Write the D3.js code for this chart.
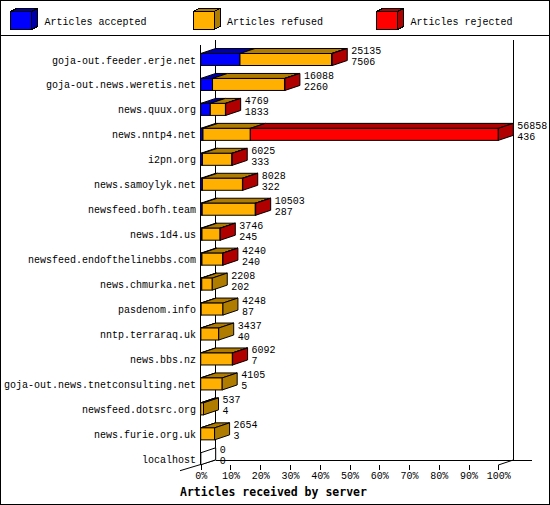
<!DOCTYPE html>
<html>
<head>
<meta charset="utf-8">
<script src="https://cdn.jsdelivr.net/npm/d3@7"></script>
<style>
  body { margin: 0; background: #fff; }
  text { font-family: "Liberation Mono", "DejaVu Sans Mono", monospace; font-size: 10px; fill: #000; }
</style>
</head>
<body>
<div id="chart"></div>
<script>
// servers and their article counts (refused / rejected)
var servers = ["goja-out.feeder.erje.net", "goja-out.news.weretis.net", "news.quux.org", "news.nntp4.net",
  "i2pn.org", "news.samoylyk.net", "newsfeed.bofh.team", "news.1d4.us", "newsfeed.endofthelinebbs.com",
  "news.chmurka.net", "pasdenom.info", "nntp.terraraq.uk", "news.bbs.nz", "goja-out.news.tnetconsulting.net",
  "newsfeed.dotsrc.org", "news.furie.org.uk", "localhost"];
var accepted = [7506, 2260, 1833, 436, 333, 322, 287, 245, 240, 202, 87, 40, 7, 5, 4, 3, 0];
var refused  = [17509, 13748, 2896, 9041, 5632, 7656, 10146, 3471, 3970, 2006, 4161, 3397, 6045, 4100, 533, 2651, 0];
var rejected = [120, 80, 40, 47381, 60, 50, 70, 30, 30, 0, 0, 0, 40, 0, 0, 0, 0];
var seriesNames = ["Articles accepted", "Articles refused", "Articles rejected"];
var tickValues = [0, 10, 20, 30, 40, 50, 60, 70, 80, 90, 100];

var W = 550, H = 505;
var front = ["#0000ff", "#ffb000", "#ff0000"];
var dark = ["#0000aa", "#b07c00", "#b00000"];
var dx = 15, dy = 5;   // 3d depth
var left = 200.7, right = 498.3, floorY = 465, topY = 45;

var svg = d3.select("#chart").append("svg")
  .attr("width", W).attr("height", H)
  .style("shape-rendering", "crispEdges");

svg.append("rect").attr("x", 0.5).attr("y", 0.5).attr("width", W - 1).attr("height", H - 1)
  .attr("fill", "#fff").attr("stroke", "#000");
svg.append("line").attr("x1", 0).attr("x2", W).attr("y1", 35.5).attr("y2", 35.5).attr("stroke", "#000");

// legend
var legX = [10.5, 193, 376.5];
seriesNames.forEach(function (name, i) {
  var g = svg.append("g").attr("transform", "translate(" + legX[i] + ",11.5)");
  var w = 21, h = 18, ldx = 6, ldy = 3;
  g.append("polygon").attr("points", [[0, 0], [w, 0], [w + ldx, -ldy], [ldx, -ldy]].join(" "))
    .attr("fill", dark[i]).attr("stroke", "#000");
  g.append("polygon").attr("points", [[w, 0], [w + ldx, -ldy], [w + ldx, h - ldy], [w, h]].join(" "))
    .attr("fill", dark[i]).attr("stroke", "#000");
  g.append("rect").attr("width", w).attr("height", h).attr("fill", front[i]).attr("stroke", "#000");
  g.append("text").attr("x", 34).attr("y", 13).text(name);
});

var totals = servers.map(function (s, i) { return accepted[i] + refused[i] + rejected[i]; });
var maxTotal = d3.max(totals);

var x = d3.scaleLinear().domain([0, 100]).range([left, right]);
var y = d3.scalePoint().domain(servers).range([60, 459.3]);

// 3d frame
var frame = svg.append("g").attr("stroke", "#000").attr("fill", "none");
frame.append("line").attr("x1", left + dx).attr("x2", left + dx).attr("y1", 40).attr("y2", floorY - dy);
frame.append("line").attr("x1", right + dx).attr("x2", right + dx).attr("y1", 40).attr("y2", floorY - dy);
frame.append("line").attr("x1", left).attr("x2", left).attr("y1", topY).attr("y2", floorY);
frame.append("line").attr("x1", left + dx).attr("x2", 531.7).attr("y1", floorY - dy + 0.5).attr("y2", floorY - dy + 0.5);
frame.append("line").attr("x1", 180).attr("y1", 470.7).attr("x2", left + dx).attr("y2", floorY - dy)
  .style("shape-rendering", "auto");
frame.append("line").attr("x1", right).attr("y1", floorY).attr("x2", right + dx).attr("y2", floorY - dy)
  .style("shape-rendering", "auto");

// x axis (ticks only)
var axis = svg.append("g").attr("transform", "translate(0," + floorY + ")")
  .call(d3.axisBottom(x).tickValues(tickValues).tickSize(5).tickPadding(2)
    .tickFormat(function (d) { return d + "%"; }));
axis.select(".domain").remove();
axis.selectAll("text").style("font-family", "Liberation Mono, DejaVu Sans Mono, monospace").style("font-size", "10px");

svg.append("text").attr("x", 180).attr("y", 496)
  .style("font-family", "DejaVu Sans Mono, monospace")
  .style("font-weight", "bold").style("font-size", "11.5px")
  .text("Articles received by server");

// server labels
svg.selectAll(".ylab").data(servers).enter().append("text")
  .attr("class", "ylab").attr("x", 196).attr("y", function (d) { return y(d) + 3.5; })
  .attr("text-anchor", "end").text(function (d) { return d; });

// bars
var bars = svg.selectAll(".bar").data(servers).enter().append("g").attr("class", "bar")
  .style("shape-rendering", "auto");

bars.each(function (s, i) {
  var g = d3.select(this);
  var vals = [accepted[i], refused[i], rejected[i]];
  var yt = y(s) - 6.5, yb = y(s) + 5.5;
  var pos = 0, last = -1, segs = [];
  vals.forEach(function (v, k) {
    var x0 = x(pos / maxTotal * 100);
    pos += v;
    var x1 = x(pos / maxTotal * 100);
    if (v > 0) { segs.push({ k: k, x0: x0, x1: x1 }); last = k; }
  });
  segs.forEach(function (sg) {
    g.append("polygon")
      .attr("points", [[sg.x0, yt], [sg.x1, yt], [sg.x1 + dx, yt - dy], [sg.x0 + dx, yt - dy]].join(" "))
      .attr("fill", dark[sg.k]).attr("stroke", "#000");
  });
  segs.forEach(function (sg) {
    g.append("rect").attr("x", sg.x0).attr("y", yt).attr("width", sg.x1 - sg.x0).attr("height", yb - yt)
      .attr("fill", front[sg.k]).attr("stroke", "#000");
  });
  var xe = x(totals[i] / maxTotal * 100);
  g.append("polygon")
    .attr("points", [[xe, yt], [xe + dx, yt - dy], [xe + dx, yb - dy], [xe, yb]].join(" "))
    .attr("fill", last >= 0 ? dark[last] : "#fff").attr("stroke", "#000");
  if (last < 0) {
    g.append("line").attr("x1", xe).attr("x2", xe).attr("y1", yt).attr("y2", yb).attr("stroke", "#000");
  }
  g.append("text").attr("x", xe + 19).attr("y", y(s) - 6).text(totals[i]);
  g.append("text").attr("x", xe + 19).attr("y", y(s) + 5).text(accepted[i]);
});
</script>
</body>
</html>
